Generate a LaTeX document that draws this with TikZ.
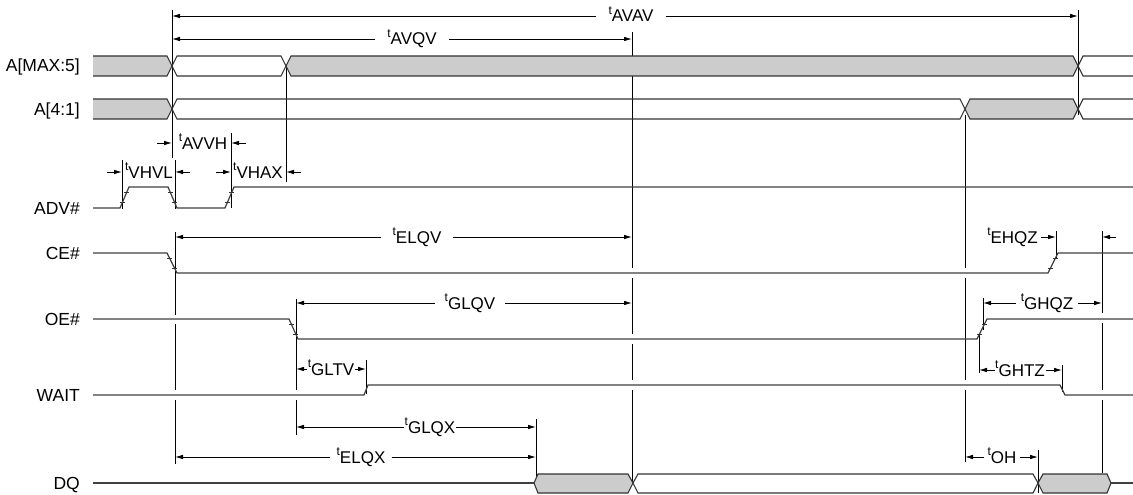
\documentclass[tikz,border=0pt]{standalone}
\usepackage{fontspec}
\setmainfont{Liberation Sans}
\usetikzlibrary{arrows.meta,calc}
\tikzset{
  sig/.style={line width=1.2pt, draw=black!75, line join=miter},
  busln/.style={line width=1.1pt, draw=black!80},
  busfill/.style={fill=black!20},
  refln/.style={line width=0.8pt, draw=black},
  dimarr/.style={line width=0.8pt, draw=black, -{Latex[length=8pt,width=4.5pt]}},
  lbl/.style={font=\fontsize{17}{19}\selectfont, inner sep=0pt, anchor=base},
  rowlbl/.style={font=\fontsize{17.5}{19}\selectfont, inner sep=0pt, anchor=base east},
  tk/.style={line width=0.6pt, draw=black!80},
}
\newcommand\tsup{\raisebox{0.42em}{\fontsize{12}{12}\selectfont t}}
\newcommand\etk[4]{%
  \draw[tk] ($(#1,#2)!0.25!(#3,#4)$) ++(-2.5,0) -- ++(5,0);
  \draw[tk] ($(#1,#2)!0.75!(#3,#4)$) ++(-2.5,0) -- ++(5,0);}
\newcommand\dimpair[5]{% label, left coord, right coord, gapL, gapR
  \draw[dimarr] ([xshift=-#4]#1.west |- #2) -- (#2);
  \draw[dimarr] ([xshift=#5]#1.east |- #3) -- (#3);}
\begin{document}
\begin{tikzpicture}[x=1pt,y=-1pt]
\fill[white] (0,0) rectangle (1133,495);
\useasboundingbox (0,0) rectangle (1133,495);

% ---------- row labels ----------
\node[rowlbl] (rA5) at (80,72) {A[MAX:5]};
\node[rowlbl] (rA1) at (80,115) {A[4:1]};
\node[rowlbl] (rADV) at (80,214) {ADV\#};
\node[rowlbl] (rCE) at (80,259) {CE\#};
\node[rowlbl] (rOE) at (80,325) {OE\#};
\node[rowlbl] (rWAIT) at (80,401) {WAIT};
\node[rowlbl] (rDQ) at (80,489) {DQ};

% ---------- reference lines ----------
\draw[refln] (172,10) -- (172,158);
\draw[refln] (1078,10) -- (1078,115);
\draw[refln] (632,32) -- (632,268) (632,278) -- (632,334) (632,344) -- (632,380) (632,390) -- (632,483);
\draw[refln] (286,66) -- (286,182);
\draw[refln] (122,160) -- (122,209);
\draw[refln] (175,160) -- (175,209);
\draw[refln] (231,133) -- (231,208);
\draw[refln] (175,232) -- (175,315) (175,324) -- (175,390) (175,400) -- (175,464);
\draw[refln] (296,299) -- (296,390) (296,400) -- (296,435);
\draw[refln] (366,360) -- (366,394);
\draw[refln] (536,419) -- (536,483);
\draw[refln] (965,115) -- (965,268) (965,278) -- (965,380) (965,390) -- (965,462);
\draw[refln] (983,298) -- (983,330);
\draw[refln] (979,333) -- (979,373);
\draw[refln] (1062,365) -- (1062,392);
\draw[refln] (1056,231) -- (1056,258);
\draw[refln] (1102,231) -- (1102,313) (1102,323) -- (1102,390) (1102,400) -- (1102,473);
\draw[refln] (1038,450) -- (1038,493);

% ---------- A[MAX:5] bus ----------
\fill[busfill] (93,56) -- (167,56) -- (172,66) -- (167,76) -- (93,76) -- cycle;
\fill[busfill] (291,56) -- (1073,56) -- (1078,66) -- (1073,76) -- (291,76) -- (286,66) -- cycle;
\draw[busln] (93,56) -- (167,56) -- (177,76) -- (281,76) -- (291,56) -- (1073,56) -- (1083,76) -- (1133,76);
\draw[busln] (93,76) -- (167,76) -- (177,56) -- (281,56) -- (291,76) -- (1073,76) -- (1083,56) -- (1133,56);

% ---------- A[4:1] bus ----------
\fill[busfill] (93,99) -- (167,99) -- (172,109) -- (167,119) -- (93,119) -- cycle;
\fill[busfill] (970,99) -- (1073,99) -- (1078,109) -- (1073,119) -- (970,119) -- (965,109) -- cycle;
\draw[busln] (93,99) -- (167,99) -- (177,119) -- (960,119) -- (970,99) -- (1073,99) -- (1083,119) -- (1133,119);
\draw[busln] (93,119) -- (167,119) -- (177,99) -- (960,99) -- (970,119) -- (1073,119) -- (1083,99) -- (1133,99);

% ---------- single signals ----------
\draw[sig] (93,208) -- (120,208) -- (129,187) -- (168,187) -- (177,208) -- (225,208) -- (234,187) -- (1133,187);
\etk{120}{208}{129}{187} \etk{168}{187}{177}{208} \etk{225}{208}{234}{187}
\draw[sig] (93,253) -- (167,253) -- (177,273) -- (1048,273) -- (1058,253) -- (1133,253);
\etk{167}{253}{177}{273} \etk{1048}{273}{1058}{253}
\draw[sig] (93,319) -- (289,319) -- (298,339) -- (977,339) -- (987,319) -- (1133,319);
\etk{289}{319}{298}{339} \etk{977}{339}{987}{319}
\draw[sig] (93,395) -- (364,395) -- (368,385) -- (1060,385) -- (1065,395) -- (1133,395);

% ---------- DQ bus ----------
\draw[sig] (93,483) -- (534,483);
\draw[busln, busfill] (534,483) -- (538,474) -- (628,474) -- (633,483) -- (628,493) -- (538,493) -- cycle;
\draw[busln, fill=white] (633,483) -- (638,474) -- (1033,474) -- (1038,483) -- (1033,493) -- (638,493) -- cycle;
\draw[busln, busfill] (1038,483) -- (1043,474) -- (1107,474) -- (1111,483) -- (1107,493) -- (1043,493) -- cycle;
\draw[sig] (1111,483) -- (1133,483);

% ---------- dimension labels and arrows ----------
\coordinate (AVAVa) at (172,16);  \coordinate (AVAVb) at (1078,16);
\node[lbl] (lAVAV) at (631,22) {\tsup AVAV};
\dimpair{lAVAV}{AVAVa}{AVAVb}{12pt}{12pt}

\coordinate (AVQVa) at (172,39);  \coordinate (AVQVb) at (632,39);
\node[lbl] (lAVQV) at (412,45) {\tsup AVQV};
\dimpair{lAVQV}{AVQVa}{AVQVb}{12pt}{12pt}

\coordinate (AVVHa) at (172,143); \coordinate (AVVHb) at (231,143);
\node[lbl] (lAVVH) at (203,149) {\tsup AVVH};
\draw[dimarr] (157,143) -- (AVVHa);
\draw[dimarr] (246,143) -- (AVVHb);

\coordinate (VHVLa) at (122,172); \coordinate (VHVLb) at (175,172);
\node[lbl] (lVHVL) at (149,178) {\tsup VHVL};
\draw[dimarr] (107,172) -- (VHVLa);
\draw[dimarr] (190,172) -- (VHVLb);

\coordinate (VHAXa) at (231,172); \coordinate (VHAXb) at (286,172);
\node[lbl] (lVHAX) at (258,178) {\tsup VHAX};
\draw[dimarr] (216,172) -- (VHAXa);
\draw[dimarr] (301,172) -- (VHAXb);

\coordinate (ELQVa) at (175,237); \coordinate (ELQVb) at (632,237);
\node[lbl] (lELQV) at (417,243) {\tsup ELQV};
\dimpair{lELQV}{ELQVa}{ELQVb}{11pt}{11pt}

\coordinate (EHQZa) at (1056,237); \coordinate (EHQZb) at (1102,237);
\node[lbl, anchor=base east] (lEHQZ) at (1038,243) {\tsup EHQZ};
\draw[dimarr] ([xshift=3pt]lEHQZ.east |- EHQZa) -- (EHQZa);
\draw[dimarr] (1116,237) -- (EHQZb);

\coordinate (GLQVa) at (296,303); \coordinate (GLQVb) at (632,303);
\node[lbl] (lGLQV) at (470,309) {\tsup GLQV};
\dimpair{lGLQV}{GLQVa}{GLQVb}{10pt}{10pt}

\coordinate (GHQZa) at (983,303); \coordinate (GHQZb) at (1102,303);
\node[lbl] (lGHQZ) at (1047,309) {\tsup GHQZ};
\dimpair{lGHQZ}{GHQZa}{GHQZb}{5pt}{5pt}

\coordinate (GLTVa) at (296,369); \coordinate (GLTVb) at (366,369);
\node[lbl] (lGLTV) at (331,375) {\tsup GLTV};
\dimpair{lGLTV}{GLTVa}{GLTVb}{0.5pt}{0.5pt}

\coordinate (GHTZa) at (979,370); \coordinate (GHTZb) at (1062,370);
\node[lbl] (lGHTZ) at (1020,376) {\tsup GHTZ};
\dimpair{lGHTZ}{GHTZa}{GHTZb}{0.5pt}{0.5pt}

\coordinate (GLQXa) at (296,427); \coordinate (GLQXb) at (536,427);
\node[lbl] (lGLQX) at (430,433) {\tsup GLQX};
\dimpair{lGLQX}{GLQXa}{GLQXb}{0.5pt}{0.5pt}

\coordinate (ELQXa) at (175,457); \coordinate (ELQXb) at (536,457);
\node[lbl] (lELQX) at (361,463) {\tsup ELQX};
\dimpair{lELQX}{ELQXa}{ELQXb}{6pt}{6pt}

\coordinate (OHa) at (965,457); \coordinate (OHb) at (1038,457);
\node[lbl] (lOH) at (1002,463) {\tsup OH};
\dimpair{lOH}{OHa}{OHb}{3pt}{3pt}

\end{tikzpicture}
\end{document}
